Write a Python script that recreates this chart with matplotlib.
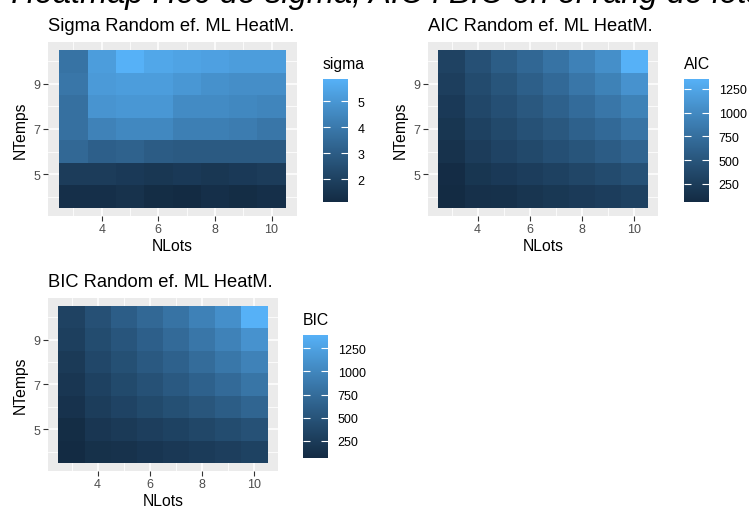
import numpy as np
import matplotlib
matplotlib.use("Agg")
import matplotlib.pyplot as plt
from matplotlib.colors import ListedColormap, Normalize
import matplotlib.cm as cm

plt.rcParams['font.family'] = ['Liberation Sans', 'DejaVu Sans']

# ---------------- data ----------------
nlots = [3, 4, 5, 6, 7, 8, 9, 10]
ntemps = [4, 5, 6, 7, 8, 9, 10]

# rows: NTemps 4..10 ; columns: NLots 3..10
sigma = [
    [1.30, 1.30, 1.40, 1.20, 1.12, 1.30, 1.20, 1.30],
    [1.80, 1.80, 1.70, 1.60, 1.70, 1.60, 1.70, 1.80],
    [3.40, 3.10, 3.20, 3.00, 2.90, 2.90, 2.90, 2.90],
    [3.70, 4.30, 4.50, 4.50, 4.20, 4.20, 4.10, 3.90],
    [3.70, 4.90, 5.00, 5.00, 4.60, 4.60, 4.50, 4.40],
    [3.90, 5.10, 5.20, 5.20, 5.00, 4.80, 4.70, 4.70],
    [3.80, 5.20, 5.85, 5.50, 5.40, 5.30, 5.20, 5.20],
]
aic = [
    [60, 120, 130, 170, 200, 230, 260, 300],
    [80, 180, 220, 260, 300, 350, 400, 460],
    [140, 250, 320, 380, 440, 500, 570, 650],
    [180, 300, 380, 460, 530, 620, 700, 800],
    [220, 360, 440, 530, 620, 720, 820, 930],
    [270, 400, 500, 600, 700, 820, 930, 1080],
    [310, 450, 580, 680, 790, 920, 1050, 1355],
]
bic = [
    [67, 130, 145, 185, 215, 250, 280, 320],
    [90, 195, 235, 280, 320, 370, 420, 480],
    [150, 265, 335, 400, 460, 525, 595, 675],
    [195, 315, 400, 480, 555, 645, 725, 830],
    [235, 375, 460, 555, 645, 745, 850, 960],
    [285, 420, 520, 625, 725, 845, 960, 1110],
    [325, 470, 600, 705, 815, 950, 1080, 1390],
]

main_title = "1 Heatmap Hoc de sigma, AIC i BIC en el rang de lots"
titles = ["Sigma Random ef. ML HeatM.", "AIC Random ef. ML HeatM.", "BIC Random ef. ML HeatM."]
legend_titles = ["sigma", "AIC", "BIC"]
xticks = [4, 6, 8, 10]
yticks = [5, 7, 9]
sigma_ticks = [2, 3, 4, 5]
ic_ticks = [250, 500, 750, 1000, 1250]

# ---------------- ggplot gradient (Lab interpolation) ----------------
def _hex2rgb(h):
    h = h.lstrip('#')
    return np.array([int(h[i:i + 2], 16) / 255 for i in (0, 2, 4)])

M = np.array([[0.4124, 0.3576, 0.1805], [0.2126, 0.7152, 0.0722], [0.0193, 0.1192, 0.9505]])
WP = np.array([0.95047, 1.0, 1.08883])

def rgb2lab(c):
    c = np.where(c <= 0.04045, c / 12.92, ((c + 0.055) / 1.055) ** 2.4)
    xyz = M @ c / WP
    f = np.where(xyz > (6 / 29) ** 3, np.cbrt(xyz), xyz / (3 * (6 / 29) ** 2) + 4 / 29)
    return np.array([116 * f[1] - 16, 500 * (f[0] - f[1]), 200 * (f[1] - f[2])])

def lab2rgb(lab):
    fy = (lab[0] + 16) / 116
    fx = fy + lab[1] / 500
    fz = fy - lab[2] / 200
    f = np.array([fx, fy, fz])
    xyz = np.where(f > 6 / 29, f ** 3, 3 * (6 / 29) ** 2 * (f - 4 / 29)) * WP
    c = np.linalg.inv(M) @ xyz
    c = np.clip(c, 0, 1)
    c = np.where(c <= 0.0031308, 12.92 * c, 1.055 * c ** (1 / 2.4) - 0.055)
    return np.clip(c, 0, 1)

lo, hi = rgb2lab(_hex2rgb('#132B43')), rgb2lab(_hex2rgb('#56B1F7'))
cmap = ListedColormap([lab2rgb(lo + (hi - lo) * t) for t in np.linspace(0, 1, 256)])

# ---------------- figure ----------------
W, H = 749, 510
fig = plt.figure(figsize=(W / 100, H / 100), dpi=100)

def fr(x0, y0, x1, y1):
    return [x0 / W, 1 - y1 / H, (x1 - x0) / W, (y1 - y0) / H]

panels = [
    dict(data=sigma, ax=(48, 43, 297, 217), cb=(323, 80, 348, 203), ticks=sigma_ticks,
         title_y=31, ltitle_y=69),
    dict(data=aic, ax=(428, 43, 658, 217), cb=(684, 80, 709, 203), ticks=ic_ticks,
         title_y=31, ltitle_y=69),
    dict(data=bic, ax=(48, 299, 278, 472), cb=(303, 336, 328, 459), ticks=ic_ticks,
         title_y=287, ltitle_y=325),
]

xe = np.concatenate([np.array(nlots) - 0.5, [nlots[-1] + 0.5]])
ye = np.concatenate([np.array(ntemps) - 0.5, [ntemps[-1] + 0.5]])

for p, title, ltitle in zip(panels, titles, legend_titles):
    Z = np.array(p['data'], dtype=float)
    ax = fig.add_axes(fr(*p['ax']))
    ax.set_facecolor('#EBEBEB')
    norm = Normalize(vmin=Z.min(), vmax=Z.max())
    ax.pcolormesh(xe, ye, Z, cmap=cmap, norm=norm, shading='flat', zorder=3)
    xr = xe[-1] - xe[0]
    yr = ye[-1] - ye[0]
    ax.set_xlim(xe[0] - 0.05 * xr, xe[-1] + 0.05 * xr)
    ax.set_ylim(ye[0] - 0.05 * yr, ye[-1] + 0.05 * yr)
    ax.set_xticks(xticks)
    ax.set_yticks(yticks)
    ax.set_xticks([3, 5, 7, 9], minor=True)
    ax.set_yticks([4, 6, 8, 10], minor=True)
    ax.grid(which='major', color='white', lw=1.1, zorder=1)
    ax.grid(which='minor', color='white', lw=0.55, zorder=1)
    ax.set_axisbelow(True)
    for s in ax.spines.values():
        s.set_visible(False)
    ax.tick_params(which='major', length=3.3, width=0.8, color='#333333',
                   labelcolor='#4D4D4D', labelsize=9, pad=2)
    ax.tick_params(which='minor', length=0)
    ax.set_xlabel('NLots', fontsize=11.3, labelpad=2, color='black')
    ax.set_ylabel('NTemps', fontsize=11.3, labelpad=4, color='black')

    x0 = p['ax'][0]
    fig.text(x0 / W, 1 - p['title_y'] / H, title, fontsize=13.2, ha='left', va='baseline')

    cax = fig.add_axes(fr(*p['cb']))
    cb = fig.colorbar(cm.ScalarMappable(norm=norm, cmap=cmap), cax=cax)
    cb.outline.set_visible(False)
    cb.set_ticks(p['ticks'])
    cax.tick_params(axis='y', direction='in', left=True, right=True, length=5,
                    width=0.8, color='white', labelsize=9, labelcolor='black', pad=7)
    cax.yaxis.set_ticks_position('both')
    cax.yaxis.set_label_position('right')
    cax.tick_params(labelleft=False, labelright=True)
    fig.text(p['cb'][0] / W, 1 - p['ltitle_y'] / H, ltitle, fontsize=11.3,
             ha='left', va='baseline')

fig.text(-16 / W, 1 - 3 / H, main_title, fontsize=23.5, style='italic',
         ha='left', va='baseline')

fig.savefig('out.png', dpi=100, facecolor='white')
